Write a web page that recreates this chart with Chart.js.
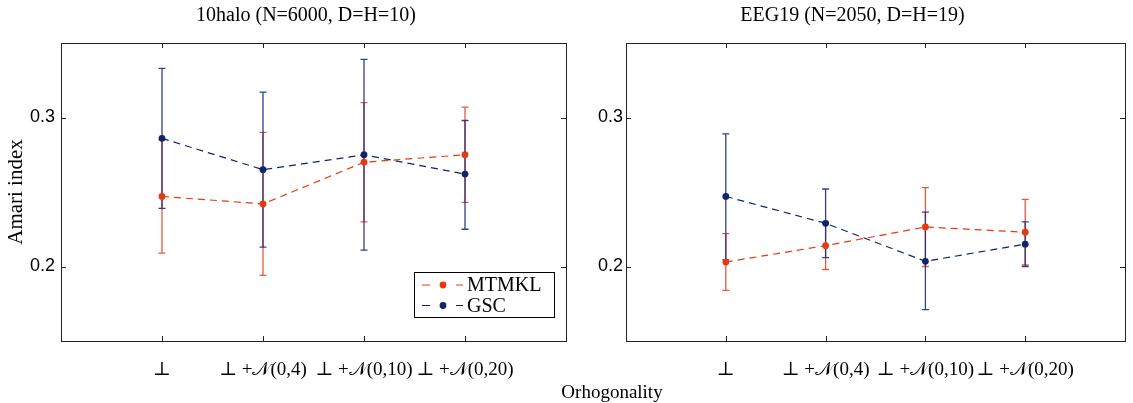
<!DOCTYPE html>
<html><head><meta charset="utf-8">
<script src="https://cdn.jsdelivr.net/npm/chart.js@4/dist/chart.umd.min.js"></script>
<style>
html,body{margin:0;padding:0;background:#fff;width:1133px;height:403px;overflow:hidden;}
#w1{position:absolute;left:0;top:0;width:612px;height:403px;}
#w2{position:absolute;left:580px;top:0;width:553px;height:403px;}
#xlabel{position:absolute;left:512px;width:200px;top:381px;text-align:center;font:19px "Liberation Serif",serif;line-height:22px;color:#000;}
</style>
</head><body>
<div id="w1"><canvas id="c1" width="612" height="403"></canvas></div>
<div id="w2"><canvas id="c2" width="553" height="403"></canvas></div>
<div id="xlabel">Orhogonality</div>
<script>
// ---- data ----
const categories = ['⊥', '⊥ +𝒩(0,4)', '⊥ +𝒩(0,10)', '⊥ +𝒩(0,20)'];
const xTickValues = [1, 2, 3, 4];
const yTickValues = [0.2, 0.3];
const seriesNames = ['MTMKL', 'GSC'];
const panelTitles = ['10halo (N=6000, D=H=10)', 'EEG19 (N=2050, D=H=19)'];

// 10halo
const mtmkl10   = [0.247, 0.242, 0.270, 0.275];
const mtmkl10Lo = [0.209, 0.194, 0.230, 0.243];
const mtmkl10Hi = [0.285, 0.290, 0.310, 0.307];
const gsc10     = [0.286, 0.265, 0.275, 0.262];
const gsc10Lo   = [0.239, 0.213, 0.211, 0.225];
const gsc10Hi   = [0.333, 0.317, 0.339, 0.298];

// EEG19
const mtmklEEG   = [0.203, 0.214, 0.2265, 0.223];
const mtmklEEGLo = [0.184, 0.198, 0.200, 0.201];
const mtmklEEGHi = [0.222, 0.230, 0.253, 0.245];
const gscEEG     = [0.247, 0.229, 0.2035, 0.215];
const gscEEGLo   = [0.2045, 0.206, 0.171, 0.200];
const gscEEGHi   = [0.289, 0.252, 0.2365, 0.230];

// ---- styles ----
const RED = '#e6390f', RED_ERR = 'rgba(232,80,45,0.95)';
const BLUE = '#0f246c', BLUE_ERR = 'rgba(30,50,130,0.92)';
const SERIF = '"Liberation Serif", "DejaVu Serif", serif';
const SANS = '"Liberation Sans", Arial, sans-serif';

function pts(arr){ return arr.map((v,i)=>({x:xTickValues[i], y:v})); }

const framePlugin = {
  id:'frame',
  afterDatasetsDraw(chart){
    const {ctx, chartArea:a, scales} = chart;
    ctx.save();
    ctx.strokeStyle = '#222'; ctx.lineWidth = 1;
    ctx.strokeRect(Math.round(a.left)+0.5, Math.round(a.top)+0.5, Math.round(a.right-a.left), Math.round(a.bottom-a.top));
    ctx.beginPath();
    const L = 5;
    xTickValues.forEach(v=>{
      const x = Math.round(scales.x.getPixelForValue(v))+0.5;
      ctx.moveTo(x, a.top); ctx.lineTo(x, a.top+L);
      ctx.moveTo(x, a.bottom); ctx.lineTo(x, a.bottom-L);
    });
    yTickValues.forEach(v=>{
      const y = Math.round(scales.y.getPixelForValue(v))+0.5;
      ctx.moveTo(a.left, y); ctx.lineTo(a.left+L, y);
      ctx.moveTo(a.right, y); ctx.lineTo(a.right-L, y);
    });
    ctx.stroke();
    ctx.restore();
  }
};

const errPlugin = {
  id:'errbars',
  beforeDatasetsDraw(chart){
    const {ctx, scales} = chart;
    ctx.save();
    chart.data.datasets.forEach(ds=>{
      ctx.strokeStyle = ds.errColor; ctx.lineWidth = 1.3;
      ctx.beginPath();
      ds.errLo.forEach((lo,i)=>{
        const x = scales.x.getPixelForValue(xTickValues[i]);
        const y1 = scales.y.getPixelForValue(lo);
        const y2 = scales.y.getPixelForValue(ds.errHi[i]);
        ctx.moveTo(x, y1); ctx.lineTo(x, y2);
        ctx.moveTo(x-3.5, y1); ctx.lineTo(x+3.5, y1);
        ctx.moveTo(x-3.5, y2); ctx.lineTo(x+3.5, y2);
      });
      ctx.stroke();
    });
    ctx.restore();
  }
};

const legendPlugin = {
  id:'boxLegend',
  afterDraw(chart){
    const {ctx, chartArea:a} = chart;
    const w = 140, h = 45;
    const right = a.right - 12, bottom = a.bottom - 24;
    const left = right - w, top = bottom - h;
    ctx.save();
    ctx.fillStyle = '#fff';
    ctx.fillRect(left, top, w, h);
    ctx.strokeStyle = '#000'; ctx.lineWidth = 1;
    ctx.strokeRect(Math.round(left)+0.5, Math.round(top)+0.5, w, h);
    chart.data.datasets.forEach((ds, i)=>{
      const y = top + 13 + i*20.5;
      ctx.strokeStyle = ds.borderColor; ctx.lineWidth = 1.2;
      ctx.beginPath();
      ctx.moveTo(left+8, y); ctx.lineTo(left+16, y);
      ctx.moveTo(left+42, y); ctx.lineTo(left+49, y);
      ctx.stroke();
      ctx.fillStyle = ds.borderColor;
      ctx.beginPath(); ctx.arc(left+29, y, 3.4, 0, Math.PI*2); ctx.fill();
      ctx.fillStyle = '#000';
      ctx.font = '20px ' + SERIF;
      ctx.textBaseline = 'middle'; ctx.textAlign = 'left';
      ctx.fillText(ds.label, left+53, y+1);
    });
    ctx.restore();
  }
};

function makeChart(id, cfg){
  const mk = (label, vals, lo, hi, color, errColor) => ({
    label, data: pts(vals), errLo: lo, errHi: hi, errColor,
    borderColor: color, backgroundColor: color, borderWidth: 1.2, borderDash: [7,5],
    pointRadius: 3.4, pointBackgroundColor: color, pointBorderWidth: 0, pointHoverRadius: 3.4,
    tension: 0, fill: false, yAxisID: 'y'
  });
  const plugins = [errPlugin, framePlugin];
  if (cfg.legend) plugins.push(legendPlugin);
  const scales = {
    x: { type: 'linear', min: 0, max: 5,
      grid: { display: false, drawTicks: false }, border: { display: false },
      afterBuildTicks: s => { s.ticks = xTickValues.map(v => ({ value: v })); },
      ticks: { callback: (v, i) => categories[i], color: '#000', padding: 18,
        maxRotation: 0, minRotation: 0, autoSkip: false,
        font: { family: SERIF, size: 19 } },
      afterFit: s => { s.height = 62; } },
    y: { position: 'left', min: 0.15, max: 0.35,
      grid: { display: false, drawTicks: false }, border: { display: false },
      afterBuildTicks: s => { s.ticks = yTickValues.map(v => ({ value: v })); },
      ticks: { callback: v => v.toFixed(1), color: '#000', padding: cfg.yPad,
        font: { family: SANS, size: 18 } },
      title: { display: cfg.yTitle, text: 'Amari index', color: '#000',
        font: { family: SERIF, size: 21 }, padding: { top: 4, bottom: 0 } },
      afterFit: s => { s.width = cfg.yWidth; } }
  };
  if (cfg.rightSpace) {
    scales.yr = { position: 'right', min: 0.15, max: 0.35, display: true,
      grid: { display: false, drawTicks: false }, border: { display: false },
      ticks: { display: false },
      afterFit: s => { s.width = cfg.rightSpace; } };
  }
  return new Chart(document.getElementById(id), {
    type: 'line',
    data: { datasets: [
      mk(seriesNames[0], cfg.m, cfg.mLo, cfg.mHi, RED, RED_ERR),
      mk(seriesNames[1], cfg.g, cfg.gLo, cfg.gHi, BLUE, BLUE_ERR)
    ]},
    options: {
      responsive: false, animation: false,
      layout: { padding: { left: 0, right: cfg.rightPad, top: 0, bottom: 0 } },
      plugins: {
        legend: { display: false }, tooltip: { enabled: false },
        title: { display: true, text: cfg.title, color: '#000',
          font: { family: SERIF, size: 20, weight: 'normal', lineHeight: 1.2 },
          padding: { top: 4, bottom: 15 } }
      },
      scales
    },
    plugins
  });
}

makeChart('c1', { title: panelTitles[0], m: mtmkl10, mLo: mtmkl10Lo, mHi: mtmkl10Hi,
  g: gsc10, gLo: gsc10Lo, gHi: gsc10Hi, yWidth: 61, yPad: 6, rightPad: 0, rightSpace: 46, yTitle: true, legend: true });
makeChart('c2', { title: panelTitles[1], m: mtmklEEG, mLo: mtmklEEGLo, mHi: mtmklEEGHi,
  g: gscEEG, gLo: gscEEGLo, gHi: gscEEGHi, yWidth: 46, yPad: 3, rightPad: 8, yTitle: false, legend: false });
</script>
</body></html>
